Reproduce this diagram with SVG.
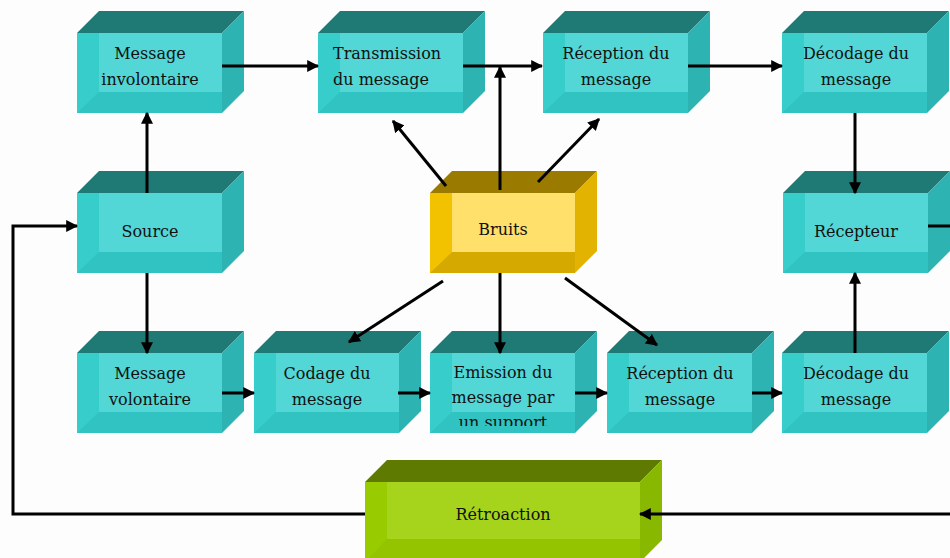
<svg xmlns="http://www.w3.org/2000/svg" xmlns:xlink="http://www.w3.org/1999/xlink" width="950" height="558" viewBox="0 0 950 558">
<style>
.t{font-family:"DejaVu Serif","Liberation Serif",serif;font-size:16px;fill:#111}
.c{text-anchor:middle}
.ln{fill:none;stroke:#000;stroke-width:3}
</style>
<defs>
<marker id="ah" viewBox="0 0 10 10" refX="9" refY="5" markerWidth="4" markerHeight="4" markerUnits="strokeWidth" orient="auto">
<path d="M0,0 L10,5 L0,10 z" fill="#000"/>
</marker>
<g id="teal">
<polygon points="0,0 22,-22 167,-22 145,0" fill="#1f7a76"/>
<polygon points="145,0 167,-22 167,58 145,80" fill="#2db3b1"/>
<rect x="0" y="0" width="145" height="80" fill="#30c3c1"/>
<polygon points="0,0 22,0 22,59 0,80" fill="#36cdcb"/>
<rect x="22" y="0" width="123" height="59" fill="#52d6d6"/>
</g>
<g id="gold">
<polygon points="0,0 22,-22 167,-22 145,0" fill="#9a7b00"/>
<polygon points="145,0 167,-22 167,58 145,80" fill="#e2b300"/>
<rect x="0" y="0" width="145" height="80" fill="#d5a900"/>
<polygon points="0,0 22,0 22,59 0,80" fill="#f2c200"/>
<rect x="22" y="0" width="123" height="59" fill="#ffe06a"/>
</g>
<g id="green">
<polygon points="0,0 22,-22 297,-22 275,0" fill="#5e7a00"/>
<polygon points="275,0 297,-22 297,58 275,80" fill="#88b800"/>
<rect x="0" y="0" width="275" height="80" fill="#94c400"/>
<polygon points="0,0 22,0 22,57 0,80" fill="#99cc00"/>
<rect x="22" y="0" width="253" height="57" fill="#a6d41c"/>
</g>
<clipPath id="clipEm"><rect x="430" y="353" width="145" height="73"/></clipPath>
</defs>
<rect width="950" height="558" fill="#fdfdfd"/>
<g id="msg-involontaire"><use xlink:href="#teal" x="77" y="33"/><text class="t c" x="150" y="59">Message</text><text class="t c" x="150" y="85">involontaire</text></g>
<g id="transmission"><use xlink:href="#teal" x="318" y="33"/><text class="t" x="333" y="59">Transmission</text><text class="t" x="333" y="85">du message</text></g>
<g id="reception1"><use xlink:href="#teal" x="543" y="33"/><text class="t c" x="616" y="59">Réception du</text><text class="t c" x="616" y="85">message</text></g>
<g id="decodage1"><use xlink:href="#teal" x="782" y="33"/><text class="t c" x="856" y="59">Décodage du</text><text class="t c" x="856" y="85">message</text></g>
<g id="source"><use xlink:href="#teal" x="77" y="193"/><text class="t c" x="150" y="237">Source</text></g>
<g id="bruits"><use xlink:href="#gold" x="430" y="193"/><text class="t c" x="503" y="235">Bruits</text></g>
<g id="recepteur"><use xlink:href="#teal" x="783" y="193"/><text class="t c" x="856" y="237">Récepteur</text></g>
<g id="msg-volontaire"><use xlink:href="#teal" x="77" y="353"/><text class="t c" x="150" y="379">Message</text><text class="t c" x="150" y="405">volontaire</text></g>
<g id="codage"><use xlink:href="#teal" x="254" y="353"/><text class="t c" x="327" y="379">Codage du</text><text class="t c" x="327" y="405">message</text></g>
<g id="emission"><use xlink:href="#teal" x="430" y="353"/><g clip-path="url(#clipEm)"><text class="t c" x="503" y="378">Emission du</text><text class="t c" x="503" y="403">message par</text><text class="t c" x="503" y="428">un support</text></g></g>
<g id="reception2"><use xlink:href="#teal" x="607" y="353"/><text class="t c" x="680" y="379">Réception du</text><text class="t c" x="680" y="405">message</text></g>
<g id="decodage2"><use xlink:href="#teal" x="782" y="353"/><text class="t c" x="856" y="379">Décodage du</text><text class="t c" x="856" y="405">message</text></g>
<g id="retroaction"><use xlink:href="#green" x="365" y="482"/><text class="t c" x="503" y="520">Rétroaction</text></g>
<g id="connectors">
<line class="ln" x1="222" y1="66" x2="318" y2="66" marker-end="url(#ah)"/>
<line class="ln" x1="463" y1="66" x2="542" y2="66" marker-end="url(#ah)"/>
<line class="ln" x1="688" y1="66" x2="782" y2="66" marker-end="url(#ah)"/>
<line class="ln" x1="500" y1="190" x2="500" y2="67" marker-end="url(#ah)"/>
<line class="ln" x1="855" y1="113" x2="855" y2="193" marker-end="url(#ah)"/>
<line class="ln" x1="147" y1="193" x2="147" y2="113" marker-end="url(#ah)"/>
<line class="ln" x1="147" y1="273" x2="147" y2="353" marker-end="url(#ah)"/>
<line class="ln" x1="446" y1="186" x2="393" y2="121" marker-end="url(#ah)"/>
<line class="ln" x1="538" y1="182" x2="599" y2="119" marker-end="url(#ah)"/>
<line class="ln" x1="443" y1="281" x2="349" y2="342" marker-end="url(#ah)"/>
<line class="ln" x1="500" y1="273" x2="500" y2="353" marker-end="url(#ah)"/>
<line class="ln" x1="565" y1="278" x2="657" y2="345" marker-end="url(#ah)"/>
<line class="ln" x1="222" y1="393" x2="254" y2="393" marker-end="url(#ah)"/>
<line class="ln" x1="398" y1="393" x2="430" y2="393" marker-end="url(#ah)"/>
<line class="ln" x1="575" y1="393" x2="607" y2="393" marker-end="url(#ah)"/>
<line class="ln" x1="752" y1="393" x2="782" y2="393" marker-end="url(#ah)"/>
<line class="ln" x1="855" y1="353" x2="855" y2="273" marker-end="url(#ah)"/>
<line class="ln" x1="928" y1="226" x2="952" y2="226"/>
<line class="ln" x1="952" y1="514" x2="640" y2="514" marker-end="url(#ah)"/>
<polyline class="ln" points="365,514 13,514 13,226 77,226" marker-end="url(#ah)"/>
</g>
</svg>
